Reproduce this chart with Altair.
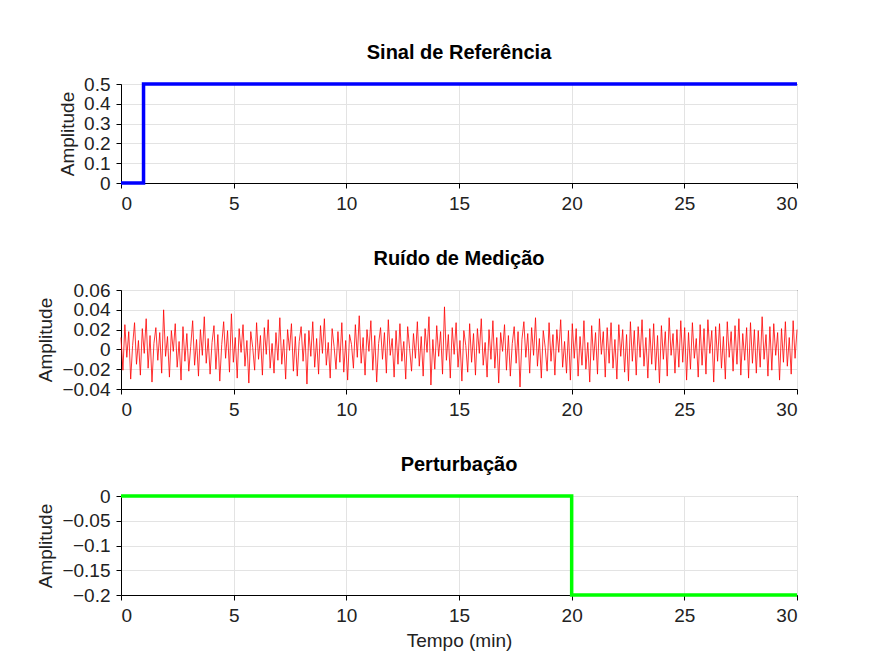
import altair as alt
import pandas as pd

ref_t = [0, 1, 30]
ref_v = [0, 0.5, 0.5]

dist_t = [0, 20, 30]
dist_v = [0, -0.2, -0.2]

noise_v = [
    0.012, -0.021, 0.025, -0.008, 0.018, -0.030, 0.004, 0.027, -0.015, 0.009,
    -0.026, 0.021, -0.004, 0.031, -0.019, 0.014, -0.033, 0.006, 0.022, -0.011,
    0.017, -0.024, 0.040, -0.007, 0.013, -0.028, 0.019, -0.002, 0.026, -0.018,
    0.008, -0.031, 0.023, -0.012, 0.016, -0.022, 0.003, 0.029, -0.016, 0.010,
    -0.027, 0.020, -0.006, 0.033, -0.014, 0.011, -0.025, 0.007, 0.024, -0.020,
    0.015, -0.032, 0.005, 0.028, -0.009, 0.019, -0.023, 0.036, -0.013, 0.012,
    -0.029, 0.021, -0.003, 0.025, -0.017, 0.009, -0.034, 0.018, 0.002, -0.021,
    0.027, -0.010, 0.014, -0.026, 0.022, -0.005, 0.030, -0.019, 0.006, -0.024,
    0.017, -0.011, 0.032, -0.015, 0.010, -0.030, 0.020, -0.001, 0.026, -0.022,
    0.013, -0.027, 0.008, 0.023, -0.012, 0.016, -0.035, 0.019, -0.007, 0.028,
    -0.018, 0.011, -0.025, 0.024, -0.004, 0.031, -0.016, 0.007, -0.029, 0.021,
    0.003, -0.020, 0.018, -0.013, 0.027, -0.023, 0.009, -0.031, 0.015, 0.005,
    -0.019, 0.025, -0.008, 0.034, -0.014, 0.012, -0.026, 0.020, -0.002, 0.029,
    -0.021, 0.014, -0.033, 0.006, 0.022, -0.010, 0.017, -0.024, 0.030, -0.006,
    0.011, -0.028, 0.019, -0.015, 0.026, -0.012, 0.008, -0.030, 0.023, 0.001,
    -0.022, 0.016, -0.009, 0.028, -0.017, 0.013, -0.027, 0.021, -0.003, 0.033,
    -0.036, 0.010, -0.020, 0.024, -0.007, 0.018, -0.025, 0.043, -0.011, 0.015,
    -0.029, 0.022, -0.005, 0.027, -0.018, 0.009, -0.032, 0.019, 0.004, -0.023,
    0.026, -0.013, 0.016, -0.026, 0.021, -0.004, 0.031, -0.016, 0.007, -0.028,
    0.020, -0.010, 0.029, -0.019, 0.012, -0.034, 0.017, -0.002, 0.025, -0.021,
    0.014, -0.027, 0.006, 0.023, -0.014, 0.018, -0.038, 0.010, 0.028, -0.008,
    0.016, -0.024, 0.022, -0.006, 0.032, -0.017, 0.011, -0.029, 0.019, 0.002,
    -0.022, 0.027, -0.012, 0.015, -0.026, 0.020, -0.003, 0.030, -0.018, 0.008,
    -0.024, 0.019, -0.031, 0.026, -0.009, 0.021, -0.027, 0.013, -0.016, 0.029,
    -0.020, 0.007, -0.033, 0.024, -0.011, 0.017, -0.025, 0.031, -0.005, 0.018,
    -0.028, 0.022, -0.014, 0.027, -0.019, 0.010, -0.030, 0.025, -0.007, 0.020,
    -0.023, 0.015, -0.032, 0.028, -0.012, 0.019, -0.026, 0.023, -0.008, 0.030,
    -0.017, 0.012, -0.029, 0.021, -0.015, 0.026, -0.021, 0.014, -0.034, 0.024,
    -0.010, 0.018, -0.027, 0.032, -0.006, 0.016, -0.024, 0.020, -0.018, 0.029,
    -0.013, 0.022, -0.031, 0.017, -0.020, 0.027, -0.009, 0.011, -0.028, 0.025,
    -0.016, 0.021, -0.025, 0.030, -0.004, 0.019, -0.033, 0.023, -0.012, 0.026,
    -0.019, 0.013, -0.030, 0.028, -0.008, 0.018, -0.022, 0.024, -0.015, 0.031,
    -0.026, 0.016, -0.011, 0.022, -0.029, 0.027, -0.014, 0.020, -0.024, 0.019,
    -0.018, 0.033, -0.010, 0.015, -0.027, 0.023, -0.021, 0.026, -0.006, 0.017,
    -0.031, 0.021, -0.013, 0.028, -0.017, 0.012, -0.025, 0.029, -0.009, 0.020,
]
noise_t = [30 * i / (len(noise_v) - 1) for i in range(len(noise_v))]

W, H = 676, 99
xax = alt.Axis(values=[0, 5, 10, 15, 20, 25, 30], labelFontSize=19, titleFontSize=19,
               titleFontWeight="normal", gridColor="#e3e3e3", labelColor="#222",
               titleColor="#222", labelPadding=6)


def yax(vals):
    return alt.Axis(values=vals, format="~g", labelFontSize=19, titleFontSize=19,
                    titleFontWeight="normal", gridColor="#e3e3e3", labelColor="#222",
                    titleColor="#222", labelFlush=False, labelPadding=6)


def title(t):
    return alt.TitleParams(t, fontSize=20, fontWeight="bold", offset=12)


c1 = alt.Chart(pd.DataFrame({"t": ref_t, "v": ref_v})).mark_line(
    color="#0000ff", strokeWidth=3.5, interpolate="step-after"
).encode(
    x=alt.X("t:Q", scale=alt.Scale(domain=[0, 30], nice=False), axis=xax, title=None),
    y=alt.Y("v:Q", scale=alt.Scale(domain=[0, 0.5], nice=False),
            axis=yax([0, 0.1, 0.2, 0.3, 0.4, 0.5]), title="Amplitude"),
).properties(width=W, height=H, title=title("Sinal de Referência"))

c2 = alt.Chart(pd.DataFrame({"t": noise_t, "v": noise_v})).mark_line(
    color="#ff0000", strokeWidth=0.8
).encode(
    x=alt.X("t:Q", scale=alt.Scale(domain=[0, 30], nice=False), axis=xax, title=None),
    y=alt.Y("v:Q", scale=alt.Scale(domain=[-0.04, 0.06], nice=False),
            axis=yax([-0.04, -0.02, 0, 0.02, 0.04, 0.06]), title="Amplitude"),
).properties(width=W, height=H, title=title("Ruído de Medição"))

c3 = alt.Chart(pd.DataFrame({"t": dist_t, "v": dist_v})).mark_line(
    color="#00ff00", strokeWidth=3.5, interpolate="step-after"
).encode(
    x=alt.X("t:Q", scale=alt.Scale(domain=[0, 30], nice=False), axis=xax, title="Tempo (min)"),
    y=alt.Y("v:Q", scale=alt.Scale(domain=[-0.2, 0], nice=False),
            axis=yax([-0.2, -0.15, -0.1, -0.05, 0]), title="Amplitude"),
).properties(width=W, height=H, title=title("Perturbação"))

chart = alt.vconcat(c1, c2, c3, spacing=34).configure(
    font="Liberation Sans"
).configure_view(stroke="black", strokeWidth=1).configure_axis(
    domainColor="black", tickColor="black", titlePadding=6
).properties(padding={"left": 28, "top": 34, "right": 10, "bottom": 5})

chart.save("out.html", embed_options={"renderer": "svg", "actions": False})
